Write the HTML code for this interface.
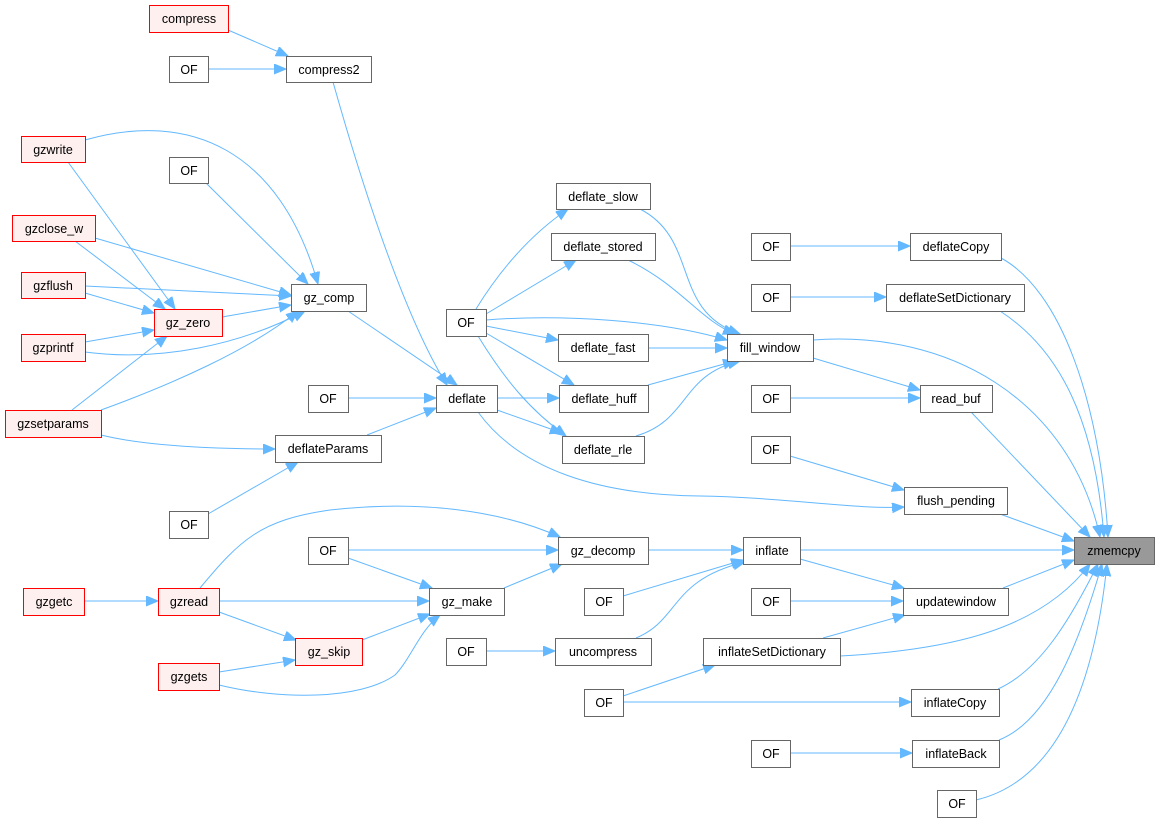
<!DOCTYPE html>
<html><head><meta charset="utf-8"><style>
body{margin:0;background:#fff;width:1157px;height:823px;overflow:hidden}
svg{display:block}
text{font-family:"Liberation Sans",Arial,sans-serif;font-size:12.5px;text-anchor:middle;fill:#000}
.n{fill:#fff;stroke:#666;stroke-width:1}
.r{fill:#fff0f0;stroke:#f00;stroke-width:1}
.z{fill:#999;stroke:#666;stroke-width:1}
path.e{fill:none;stroke:#63b8ff;stroke-width:1;marker-end:url(#a)}
</style></head><body>
<svg width="1157" height="823" viewBox="0 0 1157 823">
<defs><marker id="a" markerUnits="userSpaceOnUse" markerWidth="14" markerHeight="12" refX="12" refY="5" orient="auto"><path d="M0,0 L12,5 L0,10 z" fill="#63b8ff" stroke="#63b8ff"/></marker></defs>
<g>
<path class="e" d="M228,30 L288,56"/>
<path class="e" d="M208,69 L286,69"/>
<path class="e" d="M333,82 C355,160 400,310 447,385"/>
<path class="e" d="M85,140 C190,110 280,150 318,284"/>
<path class="e" d="M68,162 L175,309"/>
<path class="e" d="M206,183 L308,284"/>
<path class="e" d="M95,238 L291,295"/>
<path class="e" d="M75,241 L165,309"/>
<path class="e" d="M85,286 L291,296"/>
<path class="e" d="M85,293 L154,313"/>
<path class="e" d="M222,317 L291,305"/>
<path class="e" d="M85,342 L154,330"/>
<path class="e" d="M85,352 C160,362 240,345 305,311"/>
<path class="e" d="M72,410 L167,336"/>
<path class="e" d="M101,410 C170,385 250,350 298,311"/>
<path class="e" d="M101,435 C150,447 220,449 275,449"/>
<path class="e" d="M208,514 L298,462"/>
<path class="e" d="M348,311 L457,385"/>
<path class="e" d="M348,398 L436,398"/>
<path class="e" d="M367,435 L436,408"/>
<path class="e" d="M497,398 L559,398"/>
<path class="e" d="M497,410 L562,433"/>
<path class="e" d="M478,412 C520,470 600,495 700,496 C780,497 860,510 904,507"/>
<path class="e" d="M476,309 C500,270 530,235 568,209"/>
<path class="e" d="M486,314 L576,260"/>
<path class="e" d="M486,320 C560,314 660,320 727,340"/>
<path class="e" d="M486,326 L558,340"/>
<path class="e" d="M486,333 L574,385"/>
<path class="e" d="M478,336 C505,380 530,410 566,436"/>
<path class="e" d="M640,209 C700,240 670,310 740,334"/>
<path class="e" d="M628,260 C680,285 700,320 735,334"/>
<path class="e" d="M648,348 L727,348"/>
<path class="e" d="M648,385 L735,361"/>
<path class="e" d="M636,436 C690,420 680,375 740,361"/>
<path class="e" d="M790,246 L910,246"/>
<path class="e" d="M790,297 L886,297"/>
<path class="e" d="M790,398 L920,398"/>
<path class="e" d="M813,358 L920,390"/>
<path class="e" d="M790,456 L904,490"/>
<path class="e" d="M1001,258 C1060,290 1100,400 1108,537"/>
<path class="e" d="M1000,311 C1060,350 1095,420 1104,537"/>
<path class="e" d="M813,340 C950,330 1070,400 1100,537"/>
<path class="e" d="M971,412 L1090,537"/>
<path class="e" d="M1000,514 L1074,541"/>
<path class="e" d="M800,550 L1074,550"/>
<path class="e" d="M1003,588 L1074,560"/>
<path class="e" d="M840,656 C950,650 1040,630 1090,564"/>
<path class="e" d="M998,689 C1040,670 1070,620 1098,564"/>
<path class="e" d="M999,740 C1050,720 1080,640 1102,564"/>
<path class="e" d="M976,800 C1060,780 1095,680 1107,564"/>
<path class="e" d="M800,559 L904,588"/>
<path class="e" d="M790,601 L903,601"/>
<path class="e" d="M823,638 L905,615"/>
<path class="e" d="M623,696 L715,665"/>
<path class="e" d="M623,702 L911,702"/>
<path class="e" d="M790,753 L912,753"/>
<path class="e" d="M648,550 L743,550"/>
<path class="e" d="M623,596 L743,560"/>
<path class="e" d="M636,638 C680,620 670,580 745,562"/>
<path class="e" d="M486,651 L555,651"/>
<path class="e" d="M348,550 L558,550"/>
<path class="e" d="M348,558 L432,588"/>
<path class="e" d="M504,588 L562,564"/>
<path class="e" d="M200,588 C240,540 260,520 330,510 C420,500 500,510 560,537"/>
<path class="e" d="M219,601 L429,601"/>
<path class="e" d="M219,612 L296,640"/>
<path class="e" d="M84,601 L158,601"/>
<path class="e" d="M362,640 L430,614"/>
<path class="e" d="M219,672 L295,660"/>
<path class="e" d="M219,685 C280,700 360,700 395,675 C410,660 420,630 440,615"/>
</g>
<g>
<rect class="r" x="149.5" y="5.5" width="79" height="27"/><text x="189" y="23">compress</text>
<rect class="n" x="169.5" y="56.5" width="39" height="26"/><text x="189" y="74">OF</text>
<rect class="n" x="286.5" y="56.5" width="85" height="26"/><text x="329" y="74">compress2</text>
<rect class="r" x="21.5" y="136.5" width="64" height="26"/><text x="53" y="154">gzwrite</text>
<rect class="n" x="169.5" y="157.5" width="39" height="26"/><text x="189" y="175">OF</text>
<rect class="r" x="12.5" y="215.5" width="83" height="26"/><text x="54" y="233">gzclose_w</text>
<rect class="r" x="21.5" y="272.5" width="64" height="26"/><text x="53" y="290">gzflush</text>
<rect class="n" x="291.5" y="284.5" width="75" height="27"/><text x="329" y="302">gz_comp</text>
<rect class="r" x="154.5" y="309.5" width="68" height="27"/><text x="188" y="327">gz_zero</text>
<rect class="r" x="21.5" y="334.5" width="64" height="27"/><text x="53" y="352">gzprintf</text>
<rect class="r" x="5.5" y="410.5" width="96" height="27"/><text x="53" y="428">gzsetparams</text>
<rect class="n" x="308.5" y="385.5" width="40" height="27"/><text x="328" y="403">OF</text>
<rect class="n" x="275.5" y="435.5" width="106" height="27"/><text x="328" y="453">deflateParams</text>
<rect class="n" x="169.5" y="511.5" width="39" height="27"/><text x="189" y="529">OF</text>
<rect class="n" x="308.5" y="537.5" width="40" height="27"/><text x="328" y="555">OF</text>
<rect class="r" x="23.5" y="588.5" width="61" height="27"/><text x="54" y="606">gzgetc</text>
<rect class="r" x="158.5" y="588.5" width="61" height="27"/><text x="189" y="606">gzread</text>
<rect class="r" x="295.5" y="638.5" width="67" height="27"/><text x="329" y="656">gz_skip</text>
<rect class="r" x="158.5" y="663.5" width="61" height="27"/><text x="189" y="681">gzgets</text>
<rect class="n" x="429.5" y="588.5" width="75" height="27"/><text x="467" y="606">gz_make</text>
<rect class="n" x="446.5" y="638.5" width="40" height="27"/><text x="466" y="656">OF</text>
<rect class="n" x="555.5" y="638.5" width="96" height="27"/><text x="603" y="656">uncompress</text>
<rect class="n" x="558.5" y="537.5" width="90" height="27"/><text x="603" y="555">gz_decomp</text>
<rect class="n" x="584.5" y="588.5" width="39" height="27"/><text x="604" y="606">OF</text>
<rect class="n" x="584.5" y="689.5" width="39" height="27"/><text x="604" y="707">OF</text>
<rect class="n" x="436.5" y="385.5" width="61" height="27"/><text x="467" y="403">deflate</text>
<rect class="n" x="446.5" y="309.5" width="40" height="27"/><text x="466" y="327">OF</text>
<rect class="n" x="556.5" y="183.5" width="94" height="26"/><text x="603" y="201">deflate_slow</text>
<rect class="n" x="551.5" y="233.5" width="104" height="27"/><text x="603" y="251">deflate_stored</text>
<rect class="n" x="558.5" y="334.5" width="90" height="27"/><text x="603" y="352">deflate_fast</text>
<rect class="n" x="559.5" y="385.5" width="89" height="27"/><text x="604" y="403">deflate_huff</text>
<rect class="n" x="562.5" y="436.5" width="82" height="27"/><text x="603" y="454">deflate_rle</text>
<rect class="n" x="727.5" y="334.5" width="86" height="27"/><text x="770" y="352">fill_window</text>
<rect class="n" x="751.5" y="233.5" width="39" height="27"/><text x="771" y="251">OF</text>
<rect class="n" x="751.5" y="284.5" width="39" height="27"/><text x="771" y="302">OF</text>
<rect class="n" x="751.5" y="385.5" width="39" height="27"/><text x="771" y="403">OF</text>
<rect class="n" x="751.5" y="436.5" width="39" height="27"/><text x="771" y="454">OF</text>
<rect class="n" x="743.5" y="537.5" width="57" height="27"/><text x="772" y="555">inflate</text>
<rect class="n" x="751.5" y="588.5" width="39" height="27"/><text x="771" y="606">OF</text>
<rect class="n" x="703.5" y="638.5" width="137" height="27"/><text x="772" y="656">inflateSetDictionary</text>
<rect class="n" x="751.5" y="740.5" width="39" height="27"/><text x="771" y="758">OF</text>
<rect class="n" x="910.5" y="233.5" width="91" height="27"/><text x="956" y="251">deflateCopy</text>
<rect class="n" x="886.5" y="284.5" width="138" height="27"/><text x="955" y="302">deflateSetDictionary</text>
<rect class="n" x="920.5" y="385.5" width="72" height="27"/><text x="956" y="403">read_buf</text>
<rect class="n" x="904.5" y="487.5" width="103" height="27"/><text x="956" y="505">flush_pending</text>
<rect class="n" x="903.5" y="588.5" width="105" height="27"/><text x="956" y="606">updatewindow</text>
<rect class="n" x="911.5" y="689.5" width="88" height="27"/><text x="955" y="707">inflateCopy</text>
<rect class="n" x="912.5" y="740.5" width="87" height="27"/><text x="956" y="758">inflateBack</text>
<rect class="n" x="937.5" y="790.5" width="39" height="27"/><text x="957" y="808">OF</text>
<rect class="z" x="1074.5" y="537.5" width="80" height="27"/><text x="1114" y="555">zmemcpy</text>
</g>
</svg>
</body></html>
